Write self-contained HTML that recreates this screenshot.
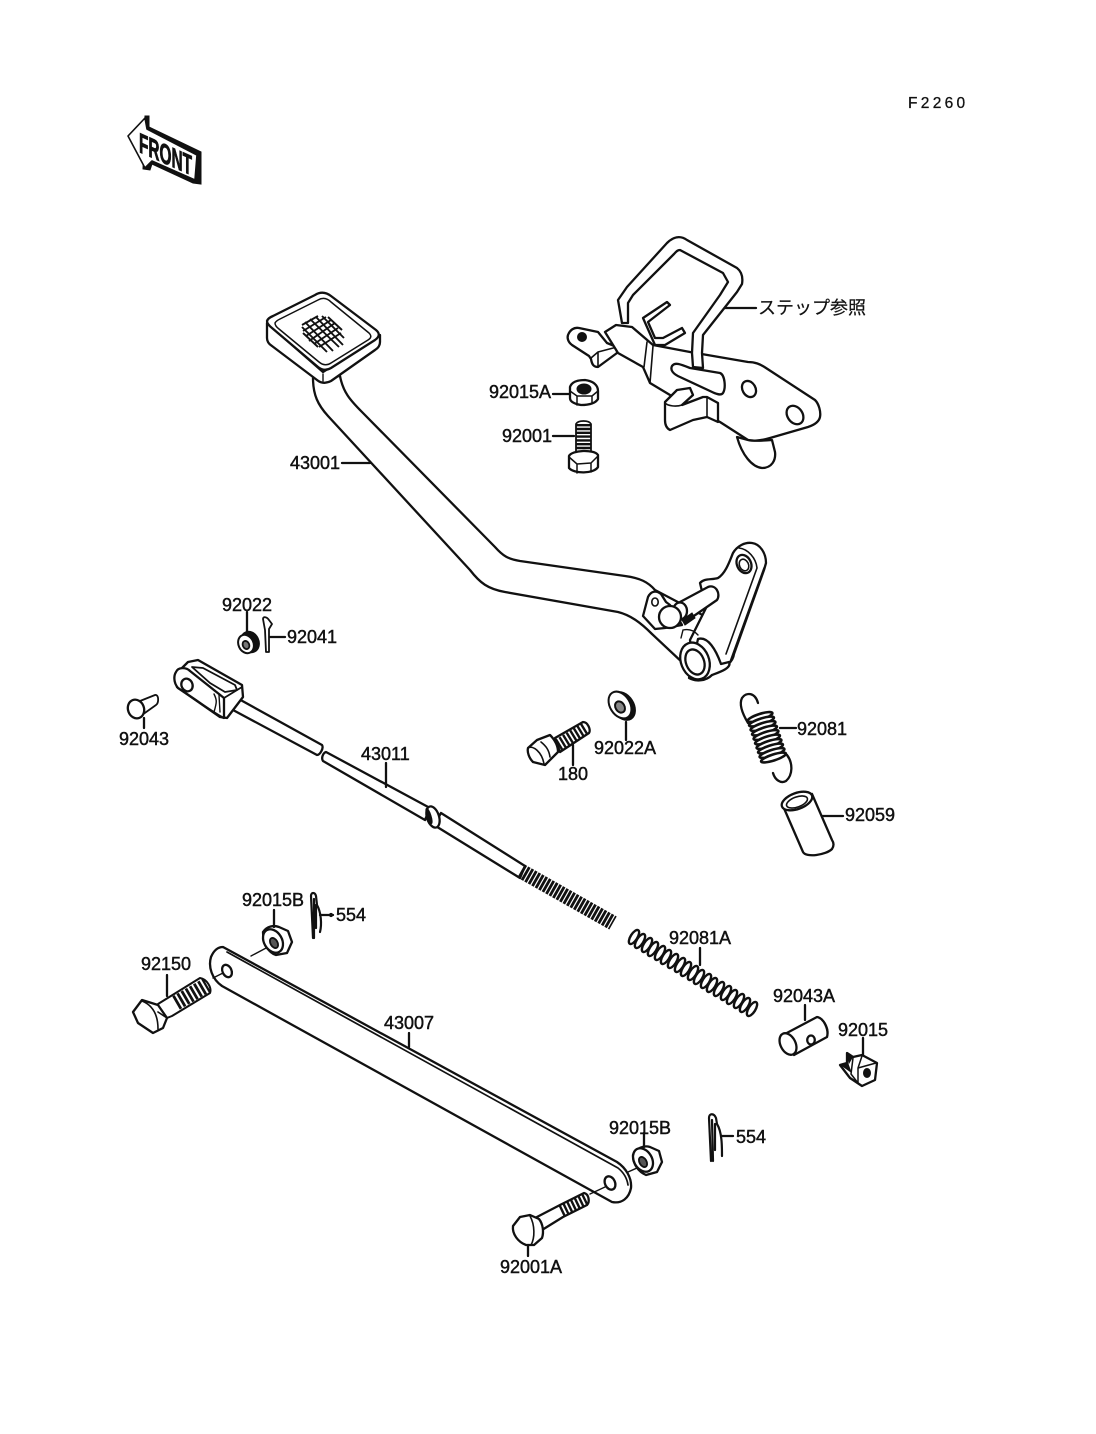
<!DOCTYPE html>
<html lang="ja">
<head>
<meta charset="utf-8">
<title>Brake pedal parts diagram</title>
<style>
html,body{margin:0;padding:0;background:#fff;}
svg{display:block;}
text{font-family:"Liberation Sans","Noto Sans CJK JP",sans-serif;font-size:18px;fill:#111;stroke:#111;stroke-width:.45px;}
.l{fill:#fff;stroke:#111;stroke-width:2.3;stroke-linejoin:round;stroke-linecap:round;}
.n{fill:none;stroke:#111;stroke-width:2.3;stroke-linejoin:round;stroke-linecap:round;}
.t{fill:none;stroke:#111;stroke-width:1.4;stroke-linecap:round;}
.b{fill:#111;stroke:#111;stroke-width:1;}
</style>
</head>
<body>
<svg width="1096" height="1434" viewBox="0 0 1096 1434" xmlns="http://www.w3.org/2000/svg">
<defs>
<ellipse id="c" rx="3.4" ry="8" fill="none" stroke="#111" stroke-width="2.4"/>
<ellipse id="s" rx="13" ry="3" fill="#fff" stroke="#111" stroke-width="2.6"/>
</defs>

<text x="908" y="108" style="font-size:15.5px;letter-spacing:3.3px;stroke-width:.3px">F2260</text>

<!-- FRONT arrow -->
<polygon class="b" points="145,116 149,116 149,127 201,152 201,184 193,183 152,164 150,170 143,169"/>
<polygon points="128,136 145,118 147,129 197,155 195,180 152,161 145,168" fill="#fff" stroke="#111" stroke-width="1.6" stroke-linejoin="round"/>
<text transform="translate(139,152) skewY(24)" textLength="53" lengthAdjust="spacingAndGlyphs" style="font-size:28px;font-weight:bold;stroke-width:.9px">FRONT</text>

<!-- Pedal arm 43001 -->
<path class="l" d="M313,378 C313,395 318,405 328,416 L470,570 C480,583 488,589 505,592 L618,612 C630,615 640,622 652,634 L684,664 L712,620 L655,590 C648,582 640,578 625,576 L520,561 C508,559 503,556 495,547 L362,412 C350,400 343,392 340,376 Z"/>
<!-- Pedal pad -->
<path class="l" d="M267,323 L267,338 Q267,343 272,346 L317,380 Q323,385 331,381 L375,350 Q380,347 380,342 L380,335 L323,372 L267,323 Z"/>
<path class="l" d="M267,321 Q267,324 272,328 L318,367 Q324,372 331,368 L375,340 Q382,335 376,330 L331,296 Q323,290 315,295 L273,316 Q268,318 267,321 Z"/>
<path class="n" style="stroke-width:1.5" d="M275,323 Q275,326 279,329 L319,362 Q325,367 331,363 L368,340 Q373,337 369,333 L331,302 Q325,296 318,300 L280,319 Q276,321 275,323 Z"/>
<line class="t" x1="323" y1="374" x2="323" y2="381"/>
<!-- mesh -->
<g fill="none" stroke="#111" stroke-width="1.9">
<path d="M302,325 L318,316 M303,331 L326,317 M306,336 L331,320 M309,341 L335,323 M314,344 L338,328 M319,347 L341,333"/>
<path d="M305,322 L333,351 M310,319 L339,347 M316,317 L343,345 M322,316 L344,338 M328,317 L342,330 M302,327 L327,352 M303,333 L318,347"/>
</g>

<!-- Lever end -->
<path class="l" d="M700,583 C704,578 712,580 718,578 C726,573 730,560 733,553 C737,546 745,542 752,543 C760,544 766,553 766,563 L764,570 L734,654 C733,662 726,668 713,673 L695,680 L690,640 L706,608 Z"/>
<ellipse class="l" cx="744" cy="564" rx="7" ry="9.5" transform="rotate(-25 744 564)"/>
<ellipse class="l" cx="744" cy="565" rx="4.5" ry="6" transform="rotate(-25 744 565)" style="stroke-width:1.6"/>
<path class="n" d="M739,548 C748,549 756,558 757,568 L726,654 M730,662 L764,568" style="stroke-width:1.6"/>
<!-- pin -->
<path class="l" d="M680,602 L708,587 C716,584 721,594 717,600 L688,620 Z"/>
<path class="l" d="M648,597 C651,591 656,590 661,594 L666,602 L670,605 L682,625 L665,628 L655,629 L643,616 Z"/>
<ellipse class="n" cx="655" cy="602" rx="3.2" ry="4" style="stroke-width:1.6"/>
<ellipse class="l" cx="680" cy="611" rx="7" ry="8.5"/>
<circle class="l" cx="670" cy="617" r="11"/>
<path class="b" d="M682,620 L692,613 L695,618 L685,625 Z"/>
<path class="t" d="M683,630 Q692,628 698,635 M683,630 L681,638"/>
<!-- boss -->
<path class="l" d="M698,639 C708,636 716,650 721,664 L729,662 C732,668 720,672 712,675 C706,681 696,682 689,678 Z"/>
<ellipse class="l" cx="695" cy="661" rx="14" ry="19" transform="rotate(-22 695 661)"/>
<ellipse class="l" cx="695" cy="662" rx="9" ry="13" transform="rotate(-22 695 662)"/>

<!-- Step bracket -->
<path class="l" d="M568,335 C570,330 574,327 579,328 L598,332 L607,343 L617,347 L617,353 L598,367 C594,367 592,365 591,359 L589,356 L572,345 C568,342 567,338 568,335 Z"/>
<path class="n" d="M591,358 L598,352 L617,347 M598,352 L598,367" style="stroke-width:1.6"/>
<circle class="b" cx="582" cy="337" r="4.5"/>
<path class="l" d="M605,332 L616,325 L632,327 L653,345 L690,352 L748,362 C755,362 760,364 766,368 L815,400 C819,404 821,412 820,417 C819,422 814,425 808,427 L770,438 C760,441 752,441 748,440 L720,422 L670,395 L650,383 L643,367 L618,353 Z"/>
<path class="n" d="M647,342 L644,367 M653,346 L650,383" style="stroke-width:1.6"/>
<ellipse class="n" cx="749" cy="389" rx="6.5" ry="8.5" transform="rotate(-30 749 389)"/>
<ellipse class="n" cx="795" cy="415" rx="7.5" ry="10" transform="rotate(-35 795 415)"/>
<path class="l" d="M737,437 C742,455 752,467 762,468 C772,468 776,460 775,452 L772,440 C760,441 752,441 748,440 Z"/>
<!-- rods -->
<path class="l" d="M643,318 L667,302 L670,305 L648,322 L655,338 L663,338 L682,328 L685,333 L665,345 L655,345 Z"/>
<!-- lower loop -->
<path class="l" d="M665,402 L677,390 L690,388 L693,395 L682,405 L703,397 L707,397 L718,403 L718,422 L707,417 L693,420 L670,430 C666,428 665,424 665,420 Z"/>
<path class="n" d="M665,403 C668,406 676,407 682,405 M707,397 L707,417" style="stroke-width:1.6"/>
<path class="l" d="M672,366 C675,362 680,364 690,368 L720,373 C725,375 726,388 723,393 C721,396 716,394 710,391 L680,377 C673,374 670,370 672,366 Z"/>
<!-- guard -->
<path class="l" d="M622,323 L618,300 L627,287 L667,243 C673,237 680,235 687,240 L737,268 C742,272 743,278 742,284 L737,292 L703,335 L702,353 L703,368 L693,367 L692,353 L693,333 L720,295 L728,282 L723,273 L680,250 C677,250 676,252 674,254 L633,295 L628,303 L628,323 Z"/>
<line class="n" x1="725" y1="308" x2="756" y2="308"/>
<text x="758" y="314" style="stroke-width:.2px">ステップ参照</text>

<!-- 92015A nut -->
<path class="l" d="M570,387 C572,381 579,380 585,380 C593,381 598,385 598,391 L598,399 C595,404 587,405 581,405 C575,404 570,402 570,398 Z"/>
<ellipse class="b" cx="584" cy="389" rx="7" ry="5"/>
<path class="n" d="M570,391 L577,396 L577,405 M577,396 L592,396 L598,391 M592,396 L592,403" style="stroke-width:1.5"/>
<line class="n" x1="553" y1="394" x2="569" y2="394"/>
<text x="489" y="398">92015A</text>

<!-- 92001 bolt -->
<line x1="583.5" y1="424" x2="583.5" y2="452" fill="none" stroke="#111" stroke-width="15" stroke-dasharray="2.4 1.4"/>
<path class="n" d="M576,424 C578,420 589,420 591,424 M576,424 L576,452 M591,424 L591,452" style="stroke-width:1.8"/>
<path class="l" d="M569,456 C572,450 594,449 598,455 L598,467 C594,474 574,474 569,468 Z"/>
<path class="n" d="M569,457 L577,464 L577,473 M577,464 L591,463 L598,456 M591,463 L591,472" style="stroke-width:1.5"/>
<line class="n" x1="553" y1="436" x2="574" y2="436"/>
<text x="502" y="442">92001</text>

<line class="n" x1="342" y1="463" x2="370" y2="463"/>
<text x="290" y="469">43001</text>

<!-- 92022 + 92041 -->
<line class="n" x1="247" y1="612" x2="247" y2="632"/>
<ellipse class="b" cx="250" cy="642" rx="9" ry="11" transform="rotate(-25 250 642)"/>
<ellipse cx="246" cy="644" rx="7.5" ry="9.5" fill="#fff" stroke="#111" stroke-width="2" transform="rotate(-25 246 644)"/>
<ellipse cx="246" cy="645" rx="3.2" ry="4.2" fill="#777" stroke="#111" stroke-width="1.8" transform="rotate(-25 246 645)"/>
<path class="l" d="M263,619 C263,616 267,617 269,620 L272,624 L269,629 L269,652 L266,652 L265,630 Z" style="stroke-width:1.8"/>
<line class="n" x1="270" y1="637" x2="285" y2="637"/>
<text x="222" y="611">92022</text>
<text x="287" y="643">92041</text>

<!-- 92043 pin -->
<path class="l" d="M140,701 L155,695 C159,694 159,703 156,705 L142,715 Z" style="stroke-width:1.8"/>
<ellipse class="l" cx="136" cy="709" rx="8" ry="9.5" transform="rotate(-20 136 709)"/>
<line class="n" x1="144" y1="718" x2="144" y2="728"/>
<text x="119" y="745">92043</text>

<!-- Rod 43011 -->
<path class="l" d="M237,698 L322,745 C324,748 320,755 317,755 L233,710 Z"/>
<path class="l" d="M326,752 L430,808 L425,820 L323,761 C321,758 323,753 326,752 Z"/>
<path class="l" d="M441,813 L525,866 L520,878 L434,825 Z"/>
<ellipse class="l" cx="433" cy="817" rx="6" ry="11" transform="rotate(-18 433 817)"/>
<ellipse class="b" cx="429" cy="816" rx="2" ry="8" transform="rotate(-18 429 816)"/>
<line x1="521" y1="871" x2="613" y2="923" fill="none" stroke="#111" stroke-width="15" stroke-dasharray="2.8 1.2"/>
<line class="n" x1="386" y1="763" x2="386" y2="787"/>
<text x="361" y="760">43011</text>
<!-- clevis -->
<path class="l" d="M182,668 L188,662 L198,660 L242,685 L243,697 L227,718 L220,717 L177,687 Z"/>
<path class="n" d="M192,667 L203,668 L235,685 L237,690 L225,692 L210,683 Z" style="stroke-width:1.8"/>
<path class="l" d="M176,672 C178,667 186,667 190,671 L224,698 L224,718 C218,716 208,708 178,688 C173,682 174,675 176,672 Z"/>
<ellipse class="n" cx="187" cy="685" rx="5.5" ry="6.5" transform="rotate(-25 187 685)"/>
<path class="t" d="M214,694 C217,700 217,702 214,712 M219,695 L220,712"/>
<path class="n" d="M224,698 L242,687" style="stroke-width:1.8"/>

<!-- 92022A -->
<ellipse class="b" cx="623" cy="706" rx="11" ry="15.5" transform="rotate(-32 623 706)"/>
<ellipse cx="620" cy="705" rx="10" ry="14.5" fill="#fff" stroke="#111" stroke-width="2" transform="rotate(-32 620 705)"/>
<ellipse cx="620" cy="707" rx="4.5" ry="6" fill="#888" stroke="#111" stroke-width="2" transform="rotate(-32 620 707)"/>
<line class="n" x1="626" y1="722" x2="626" y2="740"/>
<text x="594" y="754">92022A</text>

<!-- 180 bolt -->
<path class="l" d="M555,738 L583,722 C588,722 591,730 589,733 L560,752 Z"/>
<line x1="558" y1="745" x2="586" y2="728" fill="none" stroke="#111" stroke-width="12" stroke-dasharray="2.4 1.8"/>
<path class="l" d="M528,748 L537,740 L550,735 C555,740 558,746 558,752 L545,765 L533,762 C529,758 527,752 528,748 Z"/>
<path class="n" d="M528,748 C533,745 542,752 544,764 M541,742 C546,746 549,750 550,757" style="stroke-width:1.6"/>
<line class="n" x1="573" y1="745" x2="573" y2="765"/>
<text x="558" y="780">180</text>

<!-- 92081 spring -->
<path class="n" d="M748,723 C742,713 739,704 742,698 C746,692 755,692 758,703"/>
<path class="n" d="M787,755 C793,763 793,775 786,781 C781,784 775,780 773,773"/>
<use href="#s" x="760" y="717" transform="rotate(-18 760 717)"/>
<use href="#s" x="761.5" y="721.5" transform="rotate(-18 761.5 721.5)"/>
<use href="#s" x="763" y="726" transform="rotate(-18 763 726)"/>
<use href="#s" x="764.5" y="730.5" transform="rotate(-18 764.5 730.5)"/>
<use href="#s" x="766" y="735" transform="rotate(-18 766 735)"/>
<use href="#s" x="767.5" y="739.5" transform="rotate(-18 767.5 739.5)"/>
<use href="#s" x="769" y="744" transform="rotate(-18 769 744)"/>
<use href="#s" x="770.5" y="748.5" transform="rotate(-18 770.5 748.5)"/>
<use href="#s" x="772" y="753" transform="rotate(-18 772 753)"/>
<use href="#s" x="773.5" y="757.5" transform="rotate(-18 773.5 757.5)"/>
<line class="n" x1="780" y1="728" x2="796" y2="728"/>
<text x="797" y="735">92081</text>

<!-- 92059 tube -->
<path class="l" d="M783,806 L803,852 C806,858 826,855 832,849 C834,846 834,843 832,840 L812,794 Z"/>
<ellipse class="l" cx="797" cy="801" rx="16" ry="8" transform="rotate(-20 797 801)"/>
<ellipse class="n" cx="797" cy="802" rx="11" ry="5" transform="rotate(-20 797 802)" style="stroke-width:1.6"/>
<line class="n" x1="822" y1="816" x2="843" y2="816"/>
<text x="845" y="821">92059</text>

<!-- 92081A spring -->
<g>
<use href="#c" x="634" y="937" transform="rotate(32 634 937)"/>
<use href="#c" x="640" y="941" transform="rotate(32 640 941)"/>
<use href="#c" x="647" y="945" transform="rotate(32 647 945)"/>
<use href="#c" x="653" y="949" transform="rotate(32 653 949)"/>
<use href="#c" x="660" y="953" transform="rotate(32 660 953)"/>
<use href="#c" x="666" y="957" transform="rotate(32 666 957)"/>
<use href="#c" x="673" y="961" transform="rotate(32 673 961)"/>
<use href="#c" x="680" y="965" transform="rotate(32 680 965)"/>
<use href="#c" x="686" y="969" transform="rotate(32 686 969)"/>
<use href="#c" x="693" y="973" transform="rotate(32 693 973)"/>
<use href="#c" x="699" y="977" transform="rotate(32 699 977)"/>
<use href="#c" x="706" y="981" transform="rotate(32 706 981)"/>
<use href="#c" x="712" y="985" transform="rotate(32 712 985)"/>
<use href="#c" x="719" y="989" transform="rotate(32 719 989)"/>
<use href="#c" x="726" y="993" transform="rotate(32 726 993)"/>
<use href="#c" x="732" y="997" transform="rotate(32 732 997)"/>
<use href="#c" x="739" y="1001" transform="rotate(32 739 1001)"/>
<use href="#c" x="745" y="1005" transform="rotate(32 745 1005)"/>
<use href="#c" x="752" y="1009" transform="rotate(32 752 1009)"/>
</g>
<line class="n" x1="700" y1="948" x2="700" y2="965"/>
<text x="669" y="944" style="paint-order:stroke">92081A</text>

<!-- 92043A -->
<path class="l" d="M783,1035 L817,1017 C824,1018 829,1030 827,1037 L794,1055 Z"/>
<ellipse class="l" cx="788" cy="1044" rx="7.5" ry="11.5" transform="rotate(-27 788 1044)"/>
<path class="n" d="M819,1018 C825,1020 830,1030 827,1037" style="stroke-width:1.5"/>
<ellipse class="n" cx="811" cy="1040" rx="3.8" ry="4.5"/>
<line class="n" x1="805" y1="1005" x2="805" y2="1020"/>
<text x="773" y="1002">92043A</text>

<!-- 92015 -->
<path class="l" d="M847,1053 L853,1057 L862,1055 L877,1063 L875,1080 L862,1086 L850,1078 L840,1065 L847,1063 Z"/>
<path class="b" d="M847,1054 L852,1058 L849,1063 Z M841,1065 L848,1064 L851,1072 Z"/>
<path class="n" d="M853,1058 L851,1074 L858,1083 M862,1056 L858,1068 L876,1063 M858,1068 L858,1083" style="stroke-width:1.5"/>
<ellipse class="b" cx="867" cy="1073" rx="3.5" ry="4.5"/>
<line class="n" x1="863" y1="1038" x2="863" y2="1055"/>
<text x="838" y="1036">92015</text>

<!-- Plate 43007 -->
<path class="l" d="M223,947 L617,1162 C626,1168 632,1178 631,1188 C629,1198 622,1204 612,1202 L222,986 C212,979 208,967 211,957 C214,950 218,947 223,947 Z"/>
<path class="n" d="M227,952 L618,1168 C623,1172 627,1178 628,1185" style="stroke-width:1.7"/>
<ellipse class="n" cx="227" cy="971" rx="4.5" ry="6.5" transform="rotate(-25 227 971)"/>
<ellipse class="n" cx="610" cy="1183" rx="5" ry="7" transform="rotate(-25 610 1183)"/>
<line class="t" x1="213" y1="978" x2="223" y2="973"/>
<line class="t" x1="590" y1="1194" x2="605" y2="1187"/>
<line class="t" x1="628" y1="1172" x2="637" y2="1168"/>
<line class="t" x1="251" y1="956" x2="268" y2="947"/>
<line class="n" x1="409" y1="1033" x2="409" y2="1047"/>
<text x="384" y="1029">43007</text>

<!-- 92150 bolt -->
<path class="l" d="M158,1004 L200,978 C207,979 212,988 210,993 L172,1016 L162,1020 Z" style="stroke-width:2"/>
<line x1="176" y1="1003" x2="207" y2="985" fill="none" stroke="#111" stroke-width="15" stroke-dasharray="2.8 2"/>
<path class="l" d="M133,1012 L142,1000 L158,1005 L167,1018 L163,1028 L153,1033 L138,1023 Z"/>
<path class="n" d="M142,1001 C152,1005 158,1014 158,1029 M158,1012 L167,1018" style="stroke-width:1.6"/>
<line class="n" x1="167" y1="975" x2="167" y2="996"/>
<text x="141" y="970">92150</text>

<!-- 92015B left -->
<path class="l" d="M263,932 C267,926 274,925 279,927 L288,931 L292,942 L287,953 L276,955 C269,953 263,944 263,932 Z"/>
<ellipse class="l" cx="273" cy="941" rx="9" ry="12.5" transform="rotate(-30 273 941)"/>
<ellipse cx="274" cy="943" rx="3.5" ry="5.5" fill="#555" stroke="#111" stroke-width="1.8" transform="rotate(-30 274 943)"/>
<line class="n" x1="274" y1="910" x2="274" y2="927"/>
<text x="242" y="906">92015B</text>

<!-- 554 clips -->
<path class="n" d="M313,938 L311,896 C311,892 315,892 316,896 L317,905 C321,912 322,924 320,932 M314,938 L314,899 M316,905 L316,928" style="stroke-width:2.2"/>
<line class="n" x1="320" y1="915" x2="333" y2="915"/>
<circle class="b" cx="331" cy="915" r="1.6"/>
<text x="336" y="921">554</text>
<path class="n" d="M711,1161 L709,1118 C709,1113 714,1113 716,1118 L717,1124 C722,1132 722,1146 722,1156 M713,1161 L712,1120 M715,1124 L715,1150" style="stroke-width:2.2"/>
<line class="n" x1="722" y1="1136" x2="733" y2="1136"/>
<text x="736" y="1143">554</text>

<!-- 92015B right -->
<path class="l" d="M633,1155 C636,1148 644,1145 650,1147 L659,1151 L662,1162 L657,1172 L646,1175 C639,1172 633,1165 633,1155 Z"/>
<ellipse class="l" cx="643" cy="1160" rx="9" ry="12.5" transform="rotate(-30 643 1160)"/>
<ellipse cx="643" cy="1162" rx="3.5" ry="5.5" fill="#555" stroke="#111" stroke-width="1.8" transform="rotate(-30 643 1162)"/>
<line class="n" x1="644" y1="1133" x2="644" y2="1147"/>
<text x="609" y="1134">92015B</text>

<!-- 92001A bolt -->
<path class="l" d="M535,1218 L560,1205 L584,1193 C589,1194 590,1202 587,1205 L563,1217 L542,1230 Z"/>
<line x1="561" y1="1211" x2="586" y2="1199" fill="none" stroke="#111" stroke-width="11" stroke-dasharray="2.4 1.8"/>
<path class="l" d="M513,1226 L520,1217 L530,1215 L539,1219 C543,1224 544,1232 542,1238 L534,1245 L526,1245 C518,1242 512,1234 513,1226 Z"/>
<path class="n" d="M530,1216 C535,1225 535,1238 531,1245" style="stroke-width:1.6"/>
<line class="n" x1="528" y1="1245" x2="528" y2="1256"/>
<text x="500" y="1273">92001A</text>
</svg>
</body>
</html>
